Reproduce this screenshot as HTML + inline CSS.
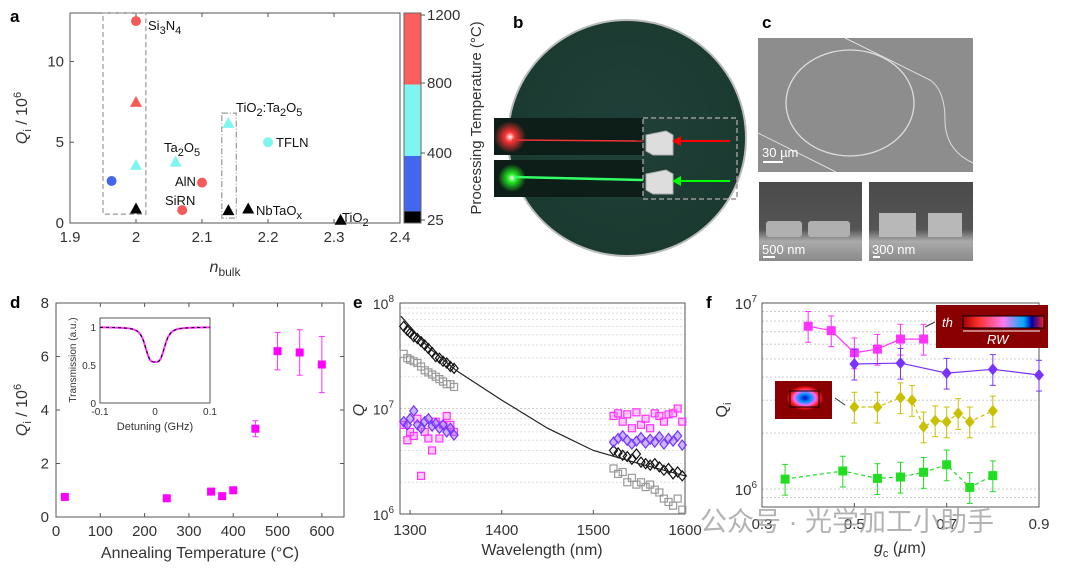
<!DOCTYPE html>
<html><head><meta charset="utf-8"><style>
body{margin:0;background:#fff;width:1080px;height:564px;overflow:hidden;font-family:"Liberation Sans","Noto Sans CJK SC",sans-serif}
svg text{font-family:"Liberation Sans","Noto Sans CJK SC",sans-serif}
</style></head><body>
<svg id="fig" width="1080" height="564" xmlns="http://www.w3.org/2000/svg">
<defs>
<radialGradient id="wafer" cx="0.5" cy="0.45" r="0.6"><stop offset="0" stop-color="#1f3f38"/><stop offset="1" stop-color="#1a3a30"/></radialGradient>
<linearGradient id="sem" x1="0" y1="0" x2="0" y2="1"><stop offset="0" stop-color="#4a4a4a"/><stop offset="0.6" stop-color="#555"/><stop offset="0.75" stop-color="#aaa"/><stop offset="1" stop-color="#8a8a8a"/></linearGradient>
<linearGradient id="mode" x1="0" y1="0" x2="1" y2="0"><stop offset="0" stop-color="#a00"/><stop offset="0.2" stop-color="#f33"/><stop offset="0.5" stop-color="#ff7af0"/><stop offset="0.75" stop-color="#0af"/><stop offset="0.85" stop-color="#00a"/><stop offset="1" stop-color="#f22"/></linearGradient>
<radialGradient id="mode2"><stop offset="0" stop-color="#00c"/><stop offset="0.35" stop-color="#09f"/><stop offset="0.6" stop-color="#f6f"/><stop offset="0.8" stop-color="#f22"/><stop offset="1" stop-color="#a00"/></radialGradient>
<radialGradient id="glowR"><stop offset="0" stop-color="#fff"/><stop offset="0.3" stop-color="#f33"/><stop offset="1" stop-color="#f33" stop-opacity="0"/></radialGradient>
<radialGradient id="glowG"><stop offset="0" stop-color="#fff"/><stop offset="0.3" stop-color="#2e2"/><stop offset="1" stop-color="#2e2" stop-opacity="0"/></radialGradient>
</defs>
<g id="labels" font-weight="bold" font-size="17">
<text x="10" y="22">a</text>
<text x="513" y="28">b</text>
<text x="762" y="28">c</text>
<text x="10" y="308">d</text>
<text x="353" y="308">e</text>
<text x="706" y="308">f</text>
</g>
<g id="pa"></g><g id="pb"></g><g id="pc"></g><g id="pd"></g><g id="pe"></g><g id="pf"></g>
<text x="700" y="531" font-size="27" fill="#9a9a9a" opacity="0.75">公众号 · 光学加工小助手</text>
</svg>
<script>
// ---------- panel a data ----------
const aN=[1.963,2.0,2.0,2.0,2.0,2.06,2.07,2.1,2.14,2.14,2.17,2.2,2.31];
const aQ=[2.6,12.5,7.5,3.6,0.9,3.8,0.8,2.5,6.2,0.8,0.9,5.0,0.2];
const aShape=["c","c","t","t","t","t","c","c","t","t","t","c","t"];
const aColor=["#4466ee","#f55a5a","#f55a5a","#7ef5f0","#000","#7ef5f0","#f55a5a","#f55a5a","#7ef5f0","#000","#000","#7ef5f0","#000"];
const aXTicks=[1.9,2,2.1,2.2,2.3,2.4];
const aYTicks=[0,5,10];
const cbTicks=[25,400,800,1200];
// ---------- panel d data ----------
const dT=[20,250,350,375,400,450,500,550,600];
const dQ=[0.75,0.7,0.95,0.78,1.0,3.3,6.2,6.15,5.7];
const dErr=[0,0,0,0,0,0.3,0.7,0.85,1.05];
const dXTicks=[0,100,200,300,400,500,600];
const dYTicks=[0,2,4,6,8];
// ---------- panel e data ----------
const eBlkW1=[1293,1297,1300,1304,1308,1312,1316,1320,1324,1328,1332,1336,1340,1344,1348];
const eBlkQ1=[6.0e7,5.5e7,5.2e7,4.8e7,4.6e7,4.3e7,4.0e7,3.7e7,3.4e7,3.1e7,3.0e7,2.8e7,2.7e7,2.5e7,2.4e7];
const eGryQ1=[3.3e7,3.0e7,2.9e7,2.8e7,2.7e7,2.5e7,2.3e7,2.2e7,2.1e7,2.0e7,1.9e7,1.8e7,1.7e7,1.7e7,1.6e7];
const ePurQ1=[7.5e6,7.0e6,8.0e6,9.5e6,7.0e6,6.5e6,7.5e6,8.0e6,6.8e6,7.2e6,6.5e6,7.0e6,6.0e6,6.5e6,5.6e6];
const eMagQ1=[7.0e6,5.0e6,6.0e6,5.5e6,8.0e6,2.3e6,6.0e6,5.2e6,4.0e6,7.5e6,5.2e6,7.0e6,8.5e6,7.0e6,6.0e6];
const eW2=[1522,1527,1532,1537,1542,1547,1552,1557,1562,1567,1572,1577,1582,1587,1592,1597];
const eBlkQ2=[4.0e6,3.8e6,3.6e6,3.5e6,3.3e6,3.7e6,3.1e6,3.0e6,2.9e6,3.0e6,2.8e6,2.6e6,2.7e6,2.4e6,2.5e6,2.3e6];
const eGryQ2=[2.7e6,2.4e6,2.5e6,2.0e6,2.2e6,1.9e6,2.0e6,1.8e6,1.9e6,1.7e6,1.6e6,1.4e6,1.3e6,1.2e6,1.4e6,1.1e6];
const ePurQ2=[4.8e6,5.2e6,5.5e6,5.0e6,4.6e6,4.9e6,5.3e6,4.7e6,5.1e6,4.8e6,5.4e6,4.6e6,5.2e6,4.9e6,5.5e6,4.5e6];
const eMagQ2=[8.5e6,9.0e6,7.5e6,8.8e6,6.5e6,9.2e6,7.0e6,8.0e6,6.5e6,9.0e6,8.5e6,7.5e6,8.8e6,9.0e6,10.0e6,7.5e6];
const eFitW=[1290,1320,1350,1400,1450,1500,1550,1600];
const eFitQ=[7.5e7,3.8e7,2.3e7,1.2e7,6.5e6,4.0e6,3.0e6,2.3e6];
const eXTicks=[1300,1400,1500,1600];
// ---------- panel f data ----------
const fMagG=[0.40,0.45,0.50,0.55,0.60,0.65];
const fMagQ=[7.5e6,7.1e6,5.4e6,5.65e6,6.4e6,6.4e6];
const fPurG=[0.5,0.6,0.7,0.8,0.9];
const fPurQ=[4.7e6,4.75e6,4.2e6,4.4e6,4.1e6];
const fYelG=[0.5,0.55,0.6,0.625,0.65,0.675,0.7,0.725,0.75,0.8];
const fYelQ=[2.76e6,2.76e6,3.1e6,3.0e6,2.16e6,2.33e6,2.3e6,2.55e6,2.3e6,2.63e6];
const fGrnG=[0.35,0.475,0.55,0.6,0.65,0.7,0.75,0.8];
const fGrnQ=[1.13e6,1.25e6,1.14e6,1.16e6,1.23e6,1.35e6,1.02e6,1.18e6];
const fXTicks=[0.3,0.5,0.7,0.9];

const NS="http://www.w3.org/2000/svg";
function mk(parent,tag,attrs,txt){const e=document.createElementNS(NS,tag);for(const k in attrs)e.setAttribute(k,attrs[k]);if(txt!==undefined)e.textContent=txt;parent.appendChild(e);return e;}
function lin(d0,d1,r0,r1){return v=>r0+(v-d0)/(d1-d0)*(r1-r0);}
function logs(d0,d1,r0,r1){return v=>r0+(Math.log10(v)-Math.log10(d0))/(Math.log10(d1)-Math.log10(d0))*(r1-r0);}
function frame(g,x0,y0,x1,y1,name){let r=mk(g,'rect',{x:x0,y:y0,width:x1-x0,height:y1-y0,fill:'none',stroke:'#555','stroke-width':1});

return r;}

// ---------- A ----------
(function(){const g=document.getElementById('pa');const X=lin(1.9,2.4,70,400),Y=lin(0,13,223,13);
frame(g,70,13,400,223,'plot-area-a');
aXTicks.forEach(t=>{mk(g,'line',{x1:X(t),x2:X(t),y1:223,y2:219,stroke:'#555'});mk(g,'line',{x1:X(t),x2:X(t),y1:13,y2:17,stroke:'#555'});
let e=mk(g,'text',{x:X(t),y:242,'font-size':15,'text-anchor':'middle',fill:'#333'},String(t));});
aYTicks.forEach(t=>{mk(g,'line',{x1:70,x2:74,y1:Y(t),y2:Y(t),stroke:'#555'});
let e=mk(g,'text',{x:64,y:Y(t)+5,'font-size':15,'text-anchor':'end',fill:'#333'},String(t));});
let xl=mk(g,'text',{x:225,y:272,'font-size':16,'text-anchor':'middle',fill:'#333'});xl.innerHTML='<tspan font-style="italic">n</tspan><tspan font-size="12" dy="4">bulk</tspan>';

let yl=mk(g,'text',{transform:'translate(27,118) rotate(-90)','font-size':16,'text-anchor':'middle',fill:'#333'});yl.innerHTML='<tspan font-style="italic">Q</tspan><tspan font-size="11" dy="4">i</tspan><tspan dy="-4"> / 10</tspan><tspan font-size="11" dy="-6">6</tspan>';

mk(g,'rect',{x:X(1.95),y:Y(13),width:X(2.015)-X(1.95),height:Y(0.55)-Y(13),fill:'none',stroke:'#999','stroke-dasharray':'5,3','stroke-width':1.2});
mk(g,'rect',{x:X(2.13),y:Y(6.8),width:X(2.152)-X(2.13),height:Y(0.3)-Y(6.8),fill:'none',stroke:'#999','stroke-dasharray':'6,2,1,2','stroke-width':1.2});
aN.forEach((n,i)=>{let x=X(n),y=Y(aQ[i]),e;
if(aShape[i]=='c')e=mk(g,'circle',{cx:x,cy:y,r:5,fill:aColor[i]});else e=mk(g,'polygon',{points:`${x-6},${y+5} ${x+6},${y+5} ${x},${y-6}`,fill:aColor[i]});
});
const lbl=[[148,30,'Si<tspan font-size="11" dy="4">3</tspan><tspan dy="-4">N</tspan><tspan font-size="11" dy="4">4</tspan>'],[164,152,'Ta<tspan font-size="11" dy="4">2</tspan><tspan dy="-4">O</tspan><tspan font-size="11" dy="4">5</tspan>'],[175,186,'AlN'],[165,205,'SiRN'],[236,112,'TiO<tspan font-size="11" dy="4">2</tspan><tspan dy="-4">:Ta</tspan><tspan font-size="11" dy="4">2</tspan><tspan dy="-4">O</tspan><tspan font-size="11" dy="4">5</tspan>'],[276,147,'TFLN'],[256,215,'NbTaO<tspan font-size="11" dy="4">x</tspan>'],[342,222,'TiO<tspan font-size="11" dy="4">2</tspan>']];
lbl.forEach(l=>{let e=mk(g,'text',{x:l[0],y:l[1],'font-size':13,fill:'#111'});e.innerHTML=l[2];});
const CB=lin(25,1200,223,13);
[[800,1200,'#fd5f5f'],[400,800,'#7ef5f0'],[90,400,'#4466ee'],[25,90,'#000']].forEach(b=>{let r=mk(g,'rect',{x:404,y:CB(b[1]),width:17,height:CB(b[0])-CB(b[1]),fill:b[2]});});
mk(g,'rect',{x:404,y:13,width:17,height:210,fill:'none',stroke:'#666'});
[[25,220],[400,153],[800,83],[1200,15]].forEach((c,i)=>{mk(g,'line',{x1:421,x2:425,y1:c[1],y2:c[1],stroke:'#555'});let e=mk(g,'text',{x:427,y:c[1]+5,'font-size':15,fill:'#333'},String(cbTicks[i]));});
let ct=mk(g,'text',{transform:'translate(481,118) rotate(-90)','font-size':15,'text-anchor':'middle',fill:'#333'},'Processing Temperature (°C)');
})();

// ---------- B ----------
(function(){const g=document.getElementById('pb');
let w=mk(g,'ellipse',{cx:627,cy:138,rx:119,ry:118,fill:'url(#wafer)',stroke:'#bbb','stroke-width':2});
mk(g,'rect',{x:494,y:118,width:149,height:37,fill:'#0d1d17'});
mk(g,'rect',{x:494,y:160,width:149,height:37,fill:'#0d1d17'});
mk(g,'ellipse',{cx:510,cy:137,rx:16,ry:16,fill:'url(#glowR)'});
mk(g,'line',{x1:512,y1:140,x2:643,y2:141,stroke:'#e33','stroke-width':1.5});
mk(g,'ellipse',{cx:512,cy:178,rx:14,ry:14,fill:'url(#glowG)'});
mk(g,'line',{x1:514,y1:177,x2:643,y2:180,stroke:'#3f6','stroke-width':2.5});
mk(g,'rect',{x:643,y:118,width:94,height:81,fill:'none',stroke:'#999','stroke-dasharray':'5,3','stroke-width':1.5});
[131,170].forEach(y=>{mk(g,'polygon',{points:`${646},${y+4} ${666},${y} ${673},${y+4} ${673},${y+24} ${653},${y+24} ${646},${y+20}`,fill:'#ddd',stroke:'#aaa'});});
mk(g,'line',{x1:730,y1:141,x2:675,y2:141,stroke:'#f00','stroke-width':2});mk(g,'polygon',{points:'672,141 681,136 681,146',fill:'#f00'});
mk(g,'line',{x1:730,y1:181,x2:675,y2:181,stroke:'#0f0','stroke-width':2});mk(g,'polygon',{points:'672,181 681,176 681,186',fill:'#0f0'});
})();

// ---------- C ----------
(function(){const g=document.getElementById('pc');
let r=mk(g,'rect',{x:758,y:38,width:215,height:134,fill:'#8d8d8d'});
mk(g,'ellipse',{cx:850,cy:103,rx:64,ry:53,fill:'none',stroke:'#ddd','stroke-width':1.3});
mk(g,'path',{d:'M845,38 L930,80 Q945,90 945,120 Q945,150 973,163',fill:'none',stroke:'#ddd','stroke-width':1});
mk(g,'path',{d:'M758,133 L836,172',fill:'none',stroke:'#ddd','stroke-width':1});
mk(g,'text',{x:762,y:157,'font-size':13,fill:'#fff'},'30 µm');mk(g,'rect',{x:763,y:161,width:20,height:2,fill:'#fff'});
let a=mk(g,'rect',{x:759,y:182,width:103,height:79,fill:'url(#sem)'});
mk(g,'rect',{x:766,y:221,width:36,height:16,fill:'#b0b0b0',rx:3});mk(g,'rect',{x:808,y:221,width:42,height:16,fill:'#b0b0b0',rx:3});
let b=mk(g,'rect',{x:869,y:182,width:104,height:79,fill:'url(#sem)'});
mk(g,'rect',{x:879,y:213,width:37,height:24,fill:'#b8b8b8'});mk(g,'rect',{x:928,y:213,width:34,height:24,fill:'#b8b8b8'});
mk(g,'text',{x:762,y:254,'font-size':13,fill:'#fff'},'500 nm');mk(g,'rect',{x:763,y:256,width:12,height:2,fill:'#fff'});
mk(g,'text',{x:872,y:254,'font-size':13,fill:'#fff'},'300 nm');mk(g,'rect',{x:873,y:256,width:7,height:2,fill:'#fff'});
})();

// ---------- D ----------
(function(){const g=document.getElementById('pd');const X=lin(0,650,56,344),Y=lin(0,8,517,303);
frame(g,56,303,344,517,'plot-area-d');
dXTicks.forEach(t=>{mk(g,'line',{x1:X(t),x2:X(t),y1:517,y2:513,stroke:'#555'});mk(g,'line',{x1:X(t),x2:X(t),y1:303,y2:307,stroke:'#555'});
let e=mk(g,'text',{x:X(t),y:536,'font-size':15,'text-anchor':'middle',fill:'#333'},String(t));});
dYTicks.forEach(t=>{mk(g,'line',{x1:56,x2:60,y1:Y(t),y2:Y(t),stroke:'#555'});mk(g,'line',{x1:344,x2:340,y1:Y(t),y2:Y(t),stroke:'#555'});
let e=mk(g,'text',{x:49,y:Y(t)+5,'font-size':15,'text-anchor':'end',fill:'#333'},String(t));});
let xl=mk(g,'text',{x:200,y:558,'font-size':16,'text-anchor':'middle',fill:'#333'},'Annealing Temperature (°C)');
let yl=mk(g,'text',{transform:'translate(27,410) rotate(-90)','font-size':16,'text-anchor':'middle',fill:'#333'});yl.innerHTML='<tspan font-style="italic">Q</tspan><tspan font-size="11" dy="4">i</tspan><tspan dy="-4"> / 10</tspan><tspan font-size="11" dy="-6">6</tspan>';

dT.forEach((t,i)=>{const x=X(t),y=Y(dQ[i]);if(dErr[i]>0){mk(g,'line',{x1:x,x2:x,y1:Y(dQ[i]-dErr[i]),y2:Y(dQ[i]+dErr[i]),stroke:'#f3f'});[dQ[i]-dErr[i],dQ[i]+dErr[i]].forEach(v=>mk(g,'line',{x1:x-3,x2:x+3,y1:Y(v),y2:Y(v),stroke:'#f3f'}));}
let r=mk(g,'rect',{x:x-4,y:y-4,width:8,height:8,fill:'#f0f'});});
const iX=lin(-0.1,0.1,100,210),iY=lin(0,1.12,403,318);
mk(g,'rect',{x:100,y:318,width:110,height:85,fill:'#fff',stroke:'#555'});
[-0.1,0,0.1].forEach(t=>{mk(g,'text',{x:iX(t),y:415,'font-size':10,'text-anchor':'middle',fill:'#333'},String(t));});
[0,0.5,1].forEach(t=>{mk(g,'text',{x:96,y:iY(t)+4,'font-size':10,'text-anchor':'end',fill:'#333'},String(t));});
mk(g,'text',{x:155,y:430,'font-size':11,'text-anchor':'middle',fill:'#333'},'Detuning (GHz)');
mk(g,'text',{transform:'translate(76,360) rotate(-90)','font-size':10,'text-anchor':'middle',fill:'#333'},'Transmission (a.u.)');
let p='';for(let k=0;k<=60;k++){const d=-0.1+k*0.2/60;const T=1-0.44/(1+Math.pow(d/0.018,4)*0.9)-0.02*Math.exp(-Math.abs(d)*20);p+=(k?'L':'M')+iX(d).toFixed(1)+','+iY(T).toFixed(1);}
let c=mk(g,'path',{d:p,fill:'none',stroke:'#f3f','stroke-width':2});
mk(g,'path',{d:p,fill:'none',stroke:'#000','stroke-width':1,'stroke-dasharray':'3,3'});
})();

// ---------- E ----------
(function(){const g=document.getElementById('pe');const X=lin(1289,1600,400,685),Y=logs(1e6,1e8,514,303);
mk(g,'rect',{x:400,y:303,width:285,height:211,fill:'#fff'});
for(let dec=6;dec<8;dec++)for(let m=1;m<10;m++){const v=m*Math.pow(10,dec);if(v<=1e6)continue;mk(g,'line',{x1:400,x2:685,y1:Y(v),y2:Y(v),stroke:m==1?'#ccc':'#ddd','stroke-dasharray':'2,2'});}
frame(g,400,303,685,514,'plot-area-e');
eXTicks.forEach(t=>{mk(g,'line',{x1:X(t),x2:X(t),y1:514,y2:510,stroke:'#555'});
let e=mk(g,'text',{x:X(t),y:535,'font-size':15,'text-anchor':'middle',fill:'#333'},String(t));});
[[6,514],[7,Y(1e7)],[8,303]].forEach(t=>{let e=mk(g,'text',{x:394,y:t[1]+6,'font-size':14,'text-anchor':'end',fill:'#333'});e.innerHTML='10<tspan font-size="10" dy="-7">'+t[0]+'</tspan>';});
let xl=mk(g,'text',{x:542,y:555,'font-size':16,'text-anchor':'middle',fill:'#333'},'Wavelength (nm)');
let yl=mk(g,'text',{transform:'translate(364,410) rotate(-90)','font-size':16,'text-anchor':'middle','font-style':'italic',fill:'#333'},'Q');
function sq(w,q,col,fill){w.forEach((x,i)=>{let r=mk(g,'rect',{x:X(x)-3.5,y:Y(q[i])-3.5,width:7,height:7,fill:fill,stroke:col,'stroke-width':1.2});});}
function dm(w,q,col,fill){w.forEach((x,i)=>{const cx=X(x),cy=Y(q[i]);let r=mk(g,'polygon',{points:`${cx},${cy-5} ${cx+4},${cy} ${cx},${cy+5} ${cx-4},${cy}`,fill:fill,stroke:col,'stroke-width':1.2});});}
sq(eBlkW1,eGryQ1,'#999','none');sq(eW2,eGryQ2,'#999','none');
dm(eBlkW1,eBlkQ1,'#111','none');dm(eW2,eBlkQ2,'#111','none');
sq(eBlkW1,eMagQ1,'#f3f','rgba(255,120,255,0.4)');sq(eW2,eMagQ2,'#f3f','rgba(255,120,255,0.4)');
dm(eBlkW1,ePurQ1,'#7733ff','rgba(150,110,255,0.5)');dm(eW2,ePurQ2,'#7733ff','rgba(150,110,255,0.5)');
let p='';eFitW.forEach((w,i)=>{p+=(i?'L':'M')+X(w).toFixed(1)+','+Y(eFitQ[i]).toFixed(1);});
let c=mk(g,'path',{d:p,fill:'none',stroke:'#222','stroke-width':1.2});
})();

// ---------- F ----------
(function(){const g=document.getElementById('pf');const X=lin(0.3,0.9,762,1039),Y=logs(1e6,1e7,489,303);
mk(g,'rect',{x:762,y:303,width:277,height:204,fill:'#fff'});
[8e5,9e5,2e6,3e6,4e6,5e6,6e6,7e6,8e6,9e6,1e6].forEach(v=>mk(g,'line',{x1:762,x2:1039,y1:Y(v),y2:Y(v),stroke:'#ccc','stroke-dasharray':'2,2'}));
frame(g,762,303,1039,507,'plot-area-f');
fXTicks.forEach(t=>{mk(g,'line',{x1:X(t),x2:X(t),y1:507,y2:503,stroke:'#555'});
let e=mk(g,'text',{x:X(t),y:529,'font-size':15,'text-anchor':'middle',fill:'#333'},String(t));});
[[6,Y(1e6)],[7,303]].forEach(t=>{let e=mk(g,'text',{x:757,y:t[1]+6,'font-size':15,'text-anchor':'end',fill:'#333'});e.innerHTML='10<tspan font-size="10" dy="-7">'+t[0]+'</tspan>';});
let xl=mk(g,'text',{x:900,y:553,'font-size':16,'text-anchor':'middle',fill:'#333'});xl.innerHTML='<tspan font-style="italic">g</tspan><tspan font-size="11" dy="4">c</tspan><tspan dy="-4"> (</tspan><tspan font-style="italic">µ</tspan>m)';
let yl=mk(g,'text',{transform:'translate(727,410) rotate(-90)','font-size':16,'text-anchor':'middle',fill:'#333'});yl.innerHTML='Q<tspan font-size="11" dy="4">i</tspan>';
function series(G,Q,col,shape,dash,name){let p='';G.forEach((v,i)=>{p+=(i?'L':'M')+X(v).toFixed(1)+','+Y(Q[i]).toFixed(1);});
let l=mk(g,'path',{d:p,fill:'none',stroke:col,'stroke-width':1.2,'stroke-dasharray':dash});
G.forEach((v,i)=>{const x=X(v),y=Y(Q[i]),lo=Y(Q[i]*0.82),hi=Y(Q[i]*1.2);
mk(g,'line',{x1:x,x2:x,y1:lo,y2:hi,stroke:col});mk(g,'line',{x1:x-3,x2:x+3,y1:lo,y2:lo,stroke:col});mk(g,'line',{x1:x-3,x2:x+3,y1:hi,y2:hi,stroke:col});
let m=shape=='s'?mk(g,'rect',{x:x-4.5,y:y-4.5,width:9,height:9,fill:col}):mk(g,'polygon',{points:`${x},${y-6} ${x+5},${y} ${x},${y+6} ${x-5},${y}`,fill:col});
});}
series(fMagG,fMagQ,'#f3f','s','none','magenta-series');
series(fPurG,fPurQ,'#7a33ff','d','none','purple-series');
series(fYelG,fYelQ,'#c8c000','d','4,3','yellow-series');
series(fGrnG,fGrnQ,'#22dd22','s','4,3','green-series');
let mi=mk(g,'rect',{x:936,y:305,width:112,height:43,fill:'#8a0000'});
mk(g,'rect',{x:963,y:316,width:81,height:12,fill:'url(#mode)'});
mk(g,'rect',{x:963,y:316,width:81,height:12,fill:'none',stroke:'#000'});
mk(g,'text',{x:942,y:327,'font-size':13,'font-style':'italic',fill:'#fff'},'th');
mk(g,'text',{x:987,y:344,'font-size':13,'font-style':'italic',fill:'#fff'},'RW');
mk(g,'line',{x1:963,x2:1040,y1:331,y2:331,stroke:'#fff'});
let m2=mk(g,'rect',{x:775,y:381,width:57,height:38,fill:'#8a0000'});
mk(g,'ellipse',{cx:805,cy:398,rx:18,ry:12,fill:'url(#mode2)'});
mk(g,'rect',{x:790,y:391,width:29,height:16,fill:'none',stroke:'#000'});
mk(g,'line',{x1:835,y1:398,x2:845,y2:405,stroke:'#333'});mk(g,'line',{x1:935,y1:322,x2:925,y2:327,stroke:'#333'});
})();
</script>
</body></html>
